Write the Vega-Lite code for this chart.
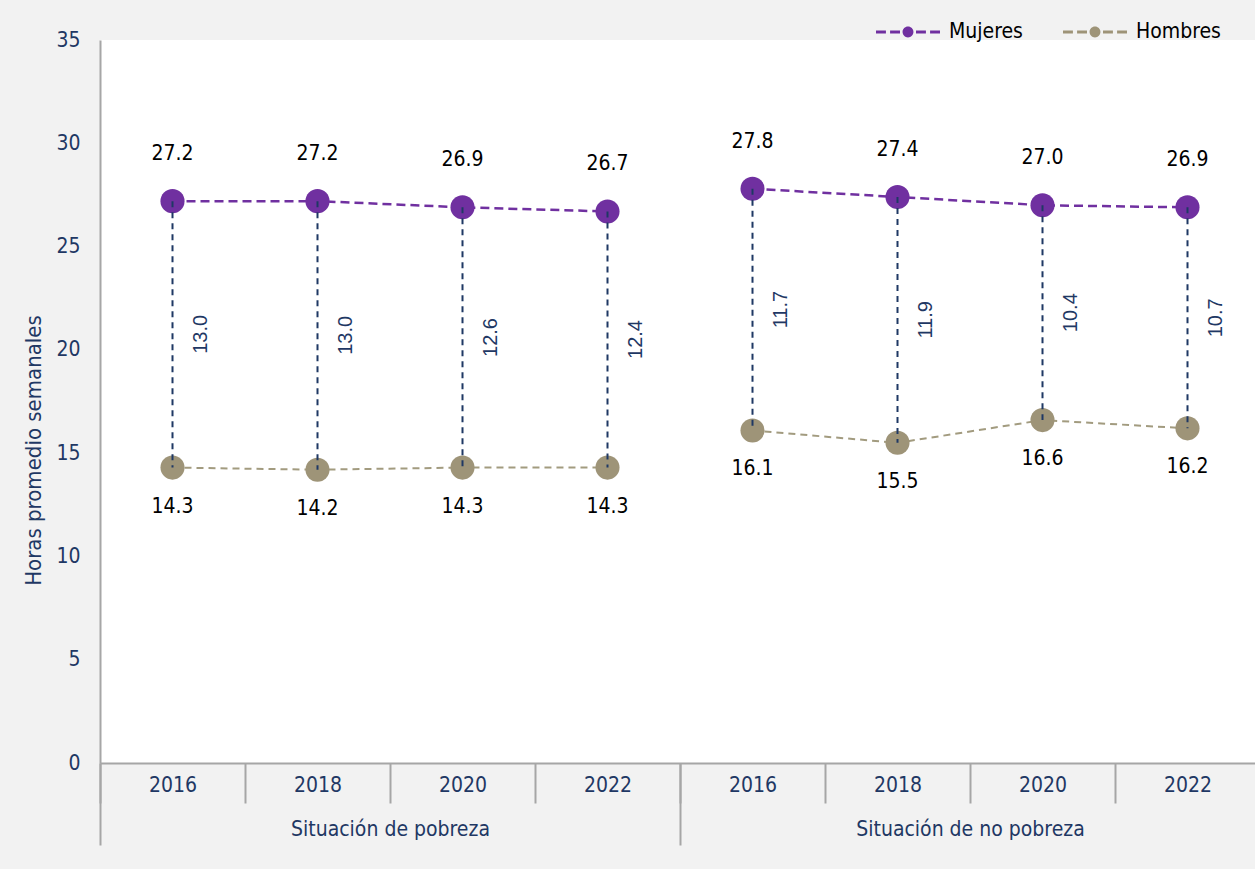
{
  "$schema": "https://vega.github.io/schema/vega-lite/v6.json",
  "width": 1160,
  "height": 723,
  "autosize": {"type": "none"},
  "padding": {"left": 100, "top": 40, "right": 0, "bottom": 106},
  "background": "#f2f2f2",
  "config": {
    "view": {"fill": "white", "stroke": null},
    "font": "DejaVu Sans Condensed"
  },
  "datasets": {
    "largo": [
      {"grupo": "Situación de pobreza", "key": "P-2016", "sexo": "Mujeres", "valor": 27.2},
      {"grupo": "Situación de pobreza", "key": "P-2018", "sexo": "Mujeres", "valor": 27.2},
      {"grupo": "Situación de pobreza", "key": "P-2020", "sexo": "Mujeres", "valor": 26.9},
      {"grupo": "Situación de pobreza", "key": "P-2022", "sexo": "Mujeres", "valor": 26.7},
      {"grupo": "Situación de no pobreza", "key": "N-2016", "sexo": "Mujeres", "valor": 27.8},
      {"grupo": "Situación de no pobreza", "key": "N-2018", "sexo": "Mujeres", "valor": 27.4},
      {"grupo": "Situación de no pobreza", "key": "N-2020", "sexo": "Mujeres", "valor": 27.0},
      {"grupo": "Situación de no pobreza", "key": "N-2022", "sexo": "Mujeres", "valor": 26.9},
      {"grupo": "Situación de pobreza", "key": "P-2016", "sexo": "Hombres", "valor": 14.3},
      {"grupo": "Situación de pobreza", "key": "P-2018", "sexo": "Hombres", "valor": 14.2},
      {"grupo": "Situación de pobreza", "key": "P-2020", "sexo": "Hombres", "valor": 14.3},
      {"grupo": "Situación de pobreza", "key": "P-2022", "sexo": "Hombres", "valor": 14.3},
      {"grupo": "Situación de no pobreza", "key": "N-2016", "sexo": "Hombres", "valor": 16.1},
      {"grupo": "Situación de no pobreza", "key": "N-2018", "sexo": "Hombres", "valor": 15.5},
      {"grupo": "Situación de no pobreza", "key": "N-2020", "sexo": "Hombres", "valor": 16.6},
      {"grupo": "Situación de no pobreza", "key": "N-2022", "sexo": "Hombres", "valor": 16.2}
    ],
    "ancho": [
      {"key": "P-2016", "m": 27.2, "h": 14.3, "dif": "13.0"},
      {"key": "P-2018", "m": 27.2, "h": 14.2, "dif": "13.0"},
      {"key": "P-2020", "m": 26.9, "h": 14.3, "dif": "12.6"},
      {"key": "P-2022", "m": 26.7, "h": 14.3, "dif": "12.4"},
      {"key": "N-2016", "m": 27.8, "h": 16.1, "dif": "11.7"},
      {"key": "N-2018", "m": 27.4, "h": 15.5, "dif": "11.9"},
      {"key": "N-2020", "m": 27.0, "h": 16.6, "dif": "10.4"},
      {"key": "N-2022", "m": 26.9, "h": 16.2, "dif": "10.7"}
    ]
  },
  "layer": [
    {
      "encoding": {
        "x": {
          "field": "key",
          "type": "nominal",
          "scale": {
            "type": "band",
            "paddingInner": 0,
            "paddingOuter": 0,
            "domain": ["P-2016", "P-2018", "P-2020", "P-2022", "N-2016", "N-2018", "N-2020", "N-2022"]
          },
          "axis": {
            "orient": "bottom",
            "title": null,
            "labelExpr": "slice(datum.label, 2)",
            "labelAngle": 0,
            "labelColor": "#1f3864",
            "labelFont": "DejaVu Sans Condensed",
            "labelFontSize": 21,
            "labelBaseline": "middle",
            "labelPadding": -18,
            "domainColor": "#a6a6a6",
            "domainWidth": 2,
            "tickColor": "#a6a6a6",
            "tickWidth": 2,
            "tickSize": 40,
            "tickBand": "extent",
            "grid": false
          }
        }
      },
      "layer": [
        {
          "data": {"name": "largo"},
          "transform": [{"filter": "datum.sexo === 'Mujeres'"}],
          "mark": {"type": "line", "color": "#7030a0", "strokeDash": [9, 5], "strokeWidth": 2.5},
          "encoding": {
            "y": {"field": "valor", "type": "quantitative"},
            "detail": {"field": "grupo"}
          }
        },
        {
          "data": {"name": "largo"},
          "transform": [{"filter": "datum.sexo === 'Hombres'"}],
          "mark": {"type": "line", "color": "#a29b7f", "strokeDash": [7, 5], "strokeWidth": 2},
          "encoding": {
            "y": {"field": "valor", "type": "quantitative"},
            "detail": {"field": "grupo"}
          }
        },
        {
          "data": {"name": "largo"},
          "mark": {"type": "point", "filled": true, "opacity": 1, "size": 580, "strokeWidth": 0},
          "encoding": {
            "y": {
              "field": "valor",
              "type": "quantitative",
              "scale": {"domain": [0, 35], "nice": false},
              "axis": {
                "values": [0, 5, 10, 15, 20, 25, 30, 35],
                "grid": false,
                "ticks": false,
                "domainColor": "#a6a6a6",
                "domainWidth": 2,
                "labelColor": "#1f3864",
                "labelFont": "DejaVu Sans Condensed",
                "labelFontSize": 21,
                "labelPadding": 20,
                "title": "Horas promedio semanales",
                "titleColor": "#1f3864",
                "titleFont": "DejaVu Sans Condensed",
                "titleFontSize": 22,
                "titleFontWeight": "normal",
                "titleX": -67,
                "titleY": 410,
                "titleBaseline": "middle"
              }
            },
            "color": {
              "field": "sexo",
              "type": "nominal",
              "scale": {"domain": ["Mujeres", "Hombres"], "range": ["#7030a0", "#9e9478"]},
              "legend": {
                "title": null,
                "orient": "none",
                "direction": "horizontal",
                "legendX": 776,
                "legendY": -40,
                "padding": 0,
                "symbolType": "M-1,-0.05H-0.69V0.05H-1Z M-0.56,-0.05H-0.25V0.05H-0.56Z M0.25,-0.05H0.56V0.05H0.25Z M0.69,-0.05H1V0.05H0.69Z M-0.17,0A0.17,0.17 0 1,0 0.17,0A0.17,0.17 0 1,0 -0.17,0Z",
                "symbolSize": 4096,
                "symbolStrokeWidth": 0,
                "symbolOpacity": 1,
                "labelFont": "DejaVu Sans Condensed",
                "labelFontSize": 21,
                "labelColor": "#000000",
                "labelOffset": 9,
                "columnPadding": 40
              }
            }
          }
        },
        {
          "data": {"name": "ancho"},
          "mark": {"type": "rule", "color": "#1f3864", "strokeDash": [6, 5], "strokeWidth": 2},
          "encoding": {
            "y": {"field": "m", "type": "quantitative"},
            "y2": {"field": "h"}
          }
        },
        {
          "data": {"name": "largo"},
          "transform": [{"filter": "datum.sexo === 'Mujeres'"}],
          "mark": {"type": "text", "dy": -47, "fontSize": 21, "font": "DejaVu Sans Condensed", "color": "#000000", "baseline": "middle"},
          "encoding": {
            "y": {"field": "valor", "type": "quantitative"},
            "text": {"field": "valor", "type": "quantitative", "format": ".1f"}
          }
        },
        {
          "data": {"name": "largo"},
          "transform": [{"filter": "datum.sexo === 'Hombres'"}],
          "mark": {"type": "text", "dy": 39, "fontSize": 21, "font": "DejaVu Sans Condensed", "color": "#000000", "baseline": "middle"},
          "encoding": {
            "y": {"field": "valor", "type": "quantitative"},
            "text": {"field": "valor", "type": "quantitative", "format": ".1f"}
          }
        },
        {
          "data": {"name": "ancho"},
          "transform": [{"fold": ["m", "h"], "as": ["s", "v"]}],
          "mark": {"type": "text", "angle": 270, "dy": 28, "fontSize": 20, "font": "Liberation Sans", "color": "#1f3864", "baseline": "middle", "align": "center"},
          "encoding": {
            "y": {"aggregate": "mean", "field": "v", "type": "quantitative"},
            "text": {"aggregate": "max", "field": "dif", "type": "nominal"}
          }
        }
      ]
    },
    {
      "data": {"name": "largo"},
      "mark": {"type": "point", "opacity": 0},
      "encoding": {
        "x": {
          "field": "grupo",
          "type": "nominal",
          "scale": {"type": "band", "paddingInner": 0, "paddingOuter": 0, "domain": ["Situación de pobreza", "Situación de no pobreza"]},
          "axis": {
            "orient": "bottom",
            "title": null,
            "labelAngle": 0,
            "labelColor": "#1f3864",
            "labelFont": "DejaVu Sans Condensed",
            "labelFontSize": 21,
            "labelLimit": 0,
            "labelBaseline": "middle",
            "labelPadding": -16,
            "domain": false,
            "tickColor": "#a6a6a6",
            "tickWidth": 2,
            "tickSize": 82,
            "tickBand": "extent",
            "grid": false
          }
        }
      }
    }
  ],
  "resolve": {"scale": {"x": "independent"}, "axis": {"x": "independent"}}
}
